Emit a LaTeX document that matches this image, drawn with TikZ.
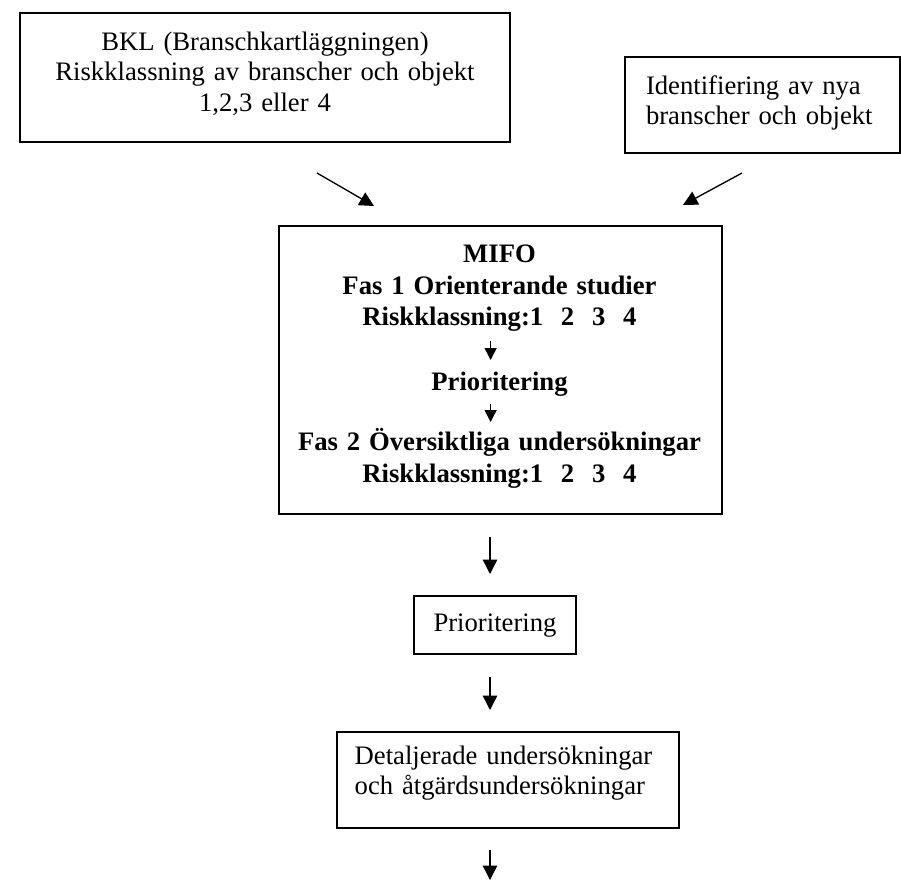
\documentclass[tikz,border=0pt]{standalone}
\usepackage{fontspec}
\setmainfont{Liberation Serif}
\usetikzlibrary{arrows.meta}

\begin{document}
\begin{tikzpicture}
    [x=0.45pt, y=-0.45pt,
     font=\fontsize{12pt}{13.8pt}\selectfont,
     box/.style={draw, line width=0.9pt, rectangle, inner sep=0pt, anchor=north west},
     lbl/.style={inner sep=0pt, anchor=north, text height=9pt, align=center, text width=199pt},
     heavy/.style={font=\fontsize{12pt}{14.2pt}\selectfont\bfseries},
     tip/.style={-{Triangle[length=6.5pt, width=6.5pt]}, line width=0.6pt},
     small/.style={-{Triangle[length=5.4pt, width=5.4pt]}, line width=0.6pt}]
    \def \ax {490} % x of the vertical arrows

    \useasboundingbox (0,0) rectangle (901,881);

    \node[box, text width=220.5pt, text height=16.65pt, text depth=41.4pt, align=center] (bkl) at (19,12)
      {BKL (Branschkartläggningen)\\Riskklassning av branscher och objekt\\1,2,3 eller 4};
    \node[box, text width=104.85pt, inner xsep=9.45pt, text height=16.65pt, text depth=26.55pt, align=left] (ident) at (624,56)
      {Identifiering av nya\\branscher och objekt};

    % the MIFO box and its three parts
    \node[box, minimum width=199.35pt, minimum height=129.6pt] (mifo) at (278,225) {};
    \node[lbl, heavy] (fas1) at (499.5,242) {MIFO\\Fas 1 Orienterande studier\\Riskklassning:1\ \ 2\ \ 3\ \ 4};
    \node[lbl, heavy] (prio1) at (499.5,370) {Prioritering};
    \node[lbl, heavy] (fas2) at (499.5,430) {Fas 2 Översiktliga undersökningar\\Riskklassning:1\ \ 2\ \ 3\ \ 4};
    \draw[small, shorten <=4pt, shorten >=4.5pt] ([xshift=-4pt]fas1.south) -- ([xshift=-4pt]prio1.north);
    \draw[small, shorten <=3.15pt, shorten >=3.6pt] ([xshift=-4pt]prio1.south) -- ([xshift=-4pt]fas2.north);

    \node[box, text width=72.9pt, text height=15.75pt, text depth=10.35pt, align=center] (prio) at (413,595) {Prioritering};
    \node[box, text width=138pt, inner xsep=7.95pt, text height=14.4pt, text depth=28.8pt, align=left] (detalj) at (336,731)
      {Detaljerade undersökningar\\och åtgärdsundersökningar};

    \coordinate (axis) at (\ax,0);
    \coordinate (bottom) at (\ax,880);
    \coordinate (bklout) at (317,173);
    \coordinate (bklin) at (374,206);
    \coordinate (identout) at (742,173);
    \coordinate (identin) at (683,205);

    \draw[tip] (bklout) -- (bklin);
    \draw[tip] (identout) -- (identin);
    \foreach \a/\b in {mifo/prio, prio/detalj}
      \draw[tip, shorten <=9.7pt, shorten >=9.45pt] (\a.south -| axis) -- (\b.north -| axis);
    \draw[tip, shorten <=9.45pt] (detalj.south -| axis) -- (bottom);
  \end{tikzpicture}
\end{document}
